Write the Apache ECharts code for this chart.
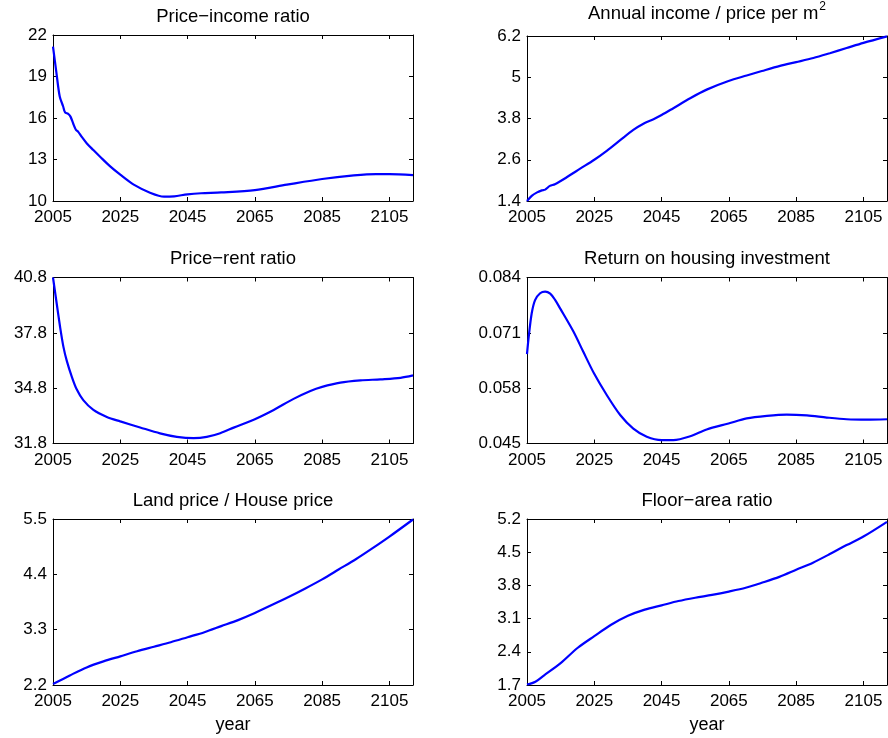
<!DOCTYPE html>
<html>
<head>
<meta charset="utf-8">
<script src="https://cdn.jsdelivr.net/npm/echarts@6/dist/echarts.min.js"></script>
<style>
  html, body { margin: 0; padding: 0; background: #fff; }
  #chart { width: 888px; height: 738px; }
</style>
</head>
<body>
<div id="chart"></div>
<script>
// Shared horizontal axis
const yearTicks = [2005, 2025, 2045, 2065, 2085, 2105];
const yearMin = 2005;
const yearMax = 2112;

// Price–income ratio
const priceIncomeYears  = [2005, 2006, 2007, 2008, 2008.6, 2009.5, 2010.2, 2011, 2011.8, 2012.5, 2013.5, 2015, 2017, 2019, 2022, 2025, 2029, 2034, 2038, 2041, 2045, 2049, 2055, 2065, 2074.5, 2085, 2094.4, 2101, 2105, 2112];
const priceIncomeValues = [21.16, 19.3, 17.55, 16.85, 16.4, 16.3, 16.1, 15.6, 15.15, 15.0, 14.65, 14.18, 13.68, 13.2, 12.5, 11.9, 11.18, 10.58, 10.31, 10.34, 10.48, 10.56, 10.62, 10.79, 11.18, 11.59, 11.85, 11.95, 11.95, 11.87];
const priceIncomeTicks  = [10, 13, 16, 19, 22];

// Annual income / price per m²
const incomeAreaYears  = [2005, 2006.4, 2008, 2009.4, 2010.4, 2011.8, 2013.3, 2016.8, 2020.8, 2025, 2028.7, 2032.7, 2036.6, 2039.6, 2042.6, 2045, 2048.5, 2053.5, 2058.4, 2064.9, 2070.3, 2074.8, 2080.2, 2085, 2090.1, 2095, 2100, 2105, 2112];
const incomeAreaValues = [1.40, 1.55, 1.65, 1.71, 1.73, 1.84, 1.89, 2.09, 2.34, 2.60, 2.86, 3.17, 3.47, 3.65, 3.78, 3.90, 4.10, 4.39, 4.64, 4.89, 5.05, 5.18, 5.33, 5.44, 5.56, 5.70, 5.85, 6.00, 6.19];
const incomeAreaTicks  = [1.4, 2.6, 3.8, 5, 6.2];

// Price–rent ratio
const priceRentYears  = [2005, 2006.1, 2007.1, 2008.1, 2009.1, 2010.6, 2012, 2014, 2017, 2021, 2025, 2030.9, 2036.8, 2041.8, 2046.8, 2050.7, 2054.7, 2058.7, 2065, 2070.6, 2076.5, 2081.5, 2085, 2090.4, 2096.4, 2102.3, 2108.3, 2112];
const priceRentValues = [40.8, 39.39, 38.13, 37.04, 36.28, 35.41, 34.75, 34.15, 33.62, 33.24, 33.0, 32.67, 32.35, 32.16, 32.09, 32.16, 32.36, 32.66, 33.12, 33.62, 34.22, 34.65, 34.87, 35.1, 35.22, 35.28, 35.36, 35.49];
const priceRentTicks  = [31.8, 34.8, 37.8, 40.8];

// Return on housing investment
const returnYears  = [2005, 2005.5, 2006.4, 2007.4, 2008.9, 2010.4, 2011.9, 2013.3, 2014.8, 2018.8, 2021.7, 2024.9, 2028.7, 2032.7, 2036.6, 2040.6, 2045, 2048.5, 2053.5, 2058.4, 2064.9, 2070.3, 2076.3, 2082.2, 2088.2, 2094.1, 2100, 2106, 2112];
const returnValues = [0.0660, 0.0700, 0.0756, 0.0787, 0.0803, 0.0807, 0.0802, 0.0788, 0.0768, 0.0713, 0.0666, 0.0615, 0.0564, 0.0517, 0.0485, 0.0466, 0.0458, 0.0458, 0.0467, 0.0483, 0.0497, 0.0509, 0.0515, 0.0518, 0.0516, 0.0511, 0.0507, 0.0506, 0.0507];
const returnTicks  = [0.045, 0.058, 0.071, 0.084];

// Land price / House price
const landHouseYears  = [2005, 2010, 2015, 2020, 2025, 2030, 2035, 2040, 2045, 2050, 2055, 2060, 2065, 2070, 2075, 2080, 2085, 2090, 2095, 2100, 2105, 2112];
const landHouseValues = [2.22, 2.39, 2.55, 2.67, 2.77, 2.87, 2.96, 3.05, 3.15, 3.25, 3.37, 3.49, 3.63, 3.79, 3.95, 4.12, 4.30, 4.50, 4.70, 4.92, 5.15, 5.49];
const landHouseTicks  = [2.2, 3.3, 4.4, 5.5];

// Floor–area ratio
const floorAreaYears  = [2005, 2007.5, 2010, 2015, 2020, 2025, 2030, 2035, 2040, 2045, 2050, 2055, 2060, 2065, 2070, 2075, 2080, 2085, 2090, 2095, 2100, 2105, 2112];
const floorAreaValues = [1.71, 1.77, 1.90, 2.16, 2.48, 2.73, 2.97, 3.16, 3.29, 3.38, 3.47, 3.54, 3.60, 3.67, 3.75, 3.86, 3.98, 4.13, 4.28, 4.46, 4.65, 4.83, 5.14];
const floorAreaTicks  = [1.7, 2.4, 3.1, 3.8, 4.5, 5.2];

const panels = [
  { title: 'Price\u2212income ratio', years: priceIncomeYears, values: priceIncomeValues, ticks: priceIncomeTicks },
  { title: 'Annual income / price per m{sup|2}', years: incomeAreaYears, values: incomeAreaValues, ticks: incomeAreaTicks },
  { title: 'Price\u2212rent ratio', years: priceRentYears, values: priceRentValues, ticks: priceRentTicks },
  { title: 'Return on housing investment', years: returnYears, values: returnValues, ticks: returnTicks },
  { title: 'Land price / House price', years: landHouseYears, values: landHouseValues, ticks: landHouseTicks, xName: 'year' },
  { title: 'Floor\u2212area ratio', years: floorAreaYears, values: floorAreaValues, ticks: floorAreaTicks, xName: 'year' }
];

const FONT = '"Liberation Sans", Arial, Helvetica, sans-serif';
const colLeft = [53, 527];
const rowTop = [35, 277.5, 519];
const plotW = 360, plotH = 166;

const grids = [], xAxes = [], yAxes = [], series = [];

panels.forEach((p, i) => {
  const col = i % 2, row = Math.floor(i / 2);
  grids.push({ left: colLeft[col], top: rowTop[row], width: plotW, height: plotH, containLabel: false });

  const tickStyle = { show: true, inside: true, length: 4, lineStyle: { color: '#000', width: 1 } };
  const lineStyle = { show: true, onZero: false, lineStyle: { color: '#000', width: 1 } };

  // bottom axis with year labels
  xAxes.push({
    type: 'value', gridIndex: i, position: 'bottom', min: yearMin, max: yearMax,
    axisLine: lineStyle,
    axisTick: Object.assign({ customValues: yearTicks }, tickStyle),
    axisLabel: { customValues: yearTicks, color: '#000', fontFamily: FONT, fontSize: 17, margin: 8,
                 formatter: v => String(v) },
    splitLine: { show: false },
    name: p.xName || '', nameLocation: 'middle', nameGap: 31,
    nameTextStyle: { color: '#000', fontFamily: FONT, fontSize: 18 }
  });
  // top axis carries the panel title
  xAxes.push({
    type: 'value', gridIndex: i, position: 'top', min: yearMin, max: yearMax,
    axisLine: lineStyle,
    axisTick: Object.assign({ customValues: yearTicks }, tickStyle),
    axisLabel: { show: false },
    splitLine: { show: false },
    name: p.title, nameLocation: 'middle', nameGap: 9,
    nameTextStyle: {
      color: '#000', fontFamily: FONT, fontSize: 18.5, verticalAlign: 'bottom',
      rich: { sup: { fontFamily: FONT, fontSize: 12, color: '#000', verticalAlign: 'top', padding: [0, 0, 14, 1] } }
    }
  });
  const lo = p.ticks[0], hi = p.ticks[p.ticks.length - 1];
  yAxes.push({
    type: 'value', gridIndex: i, position: 'left', min: lo, max: hi,
    axisLine: lineStyle,
    axisTick: Object.assign({ customValues: p.ticks }, tickStyle),
    axisLabel: { customValues: p.ticks, color: '#000', fontFamily: FONT, fontSize: 17, margin: 6,
                 formatter: v => String(v) },
    splitLine: { show: false }
  });
  yAxes.push({
    type: 'value', gridIndex: i, position: 'right', min: lo, max: hi,
    axisLine: lineStyle,
    axisTick: Object.assign({ customValues: p.ticks }, tickStyle),
    axisLabel: { show: false },
    splitLine: { show: false }
  });

  series.push({
    type: 'line', xAxisIndex: 2 * i, yAxisIndex: 2 * i,
    data: p.years.map((y, k) => [y, p.values[k]]),
    showSymbol: false, smooth: 0.3,
    lineStyle: { color: '#0000ff', width: 2.2 },
    itemStyle: { color: '#0000ff' },
    clip: true, silent: true, animation: false
  });
});

const chart = echarts.init(document.getElementById('chart'), null, { renderer: 'canvas' });
chart.setOption({
  backgroundColor: '#ffffff',
  animation: false,
  grid: grids,
  xAxis: xAxes,
  yAxis: yAxes,
  series: series
});
</script>
</body>
</html>
